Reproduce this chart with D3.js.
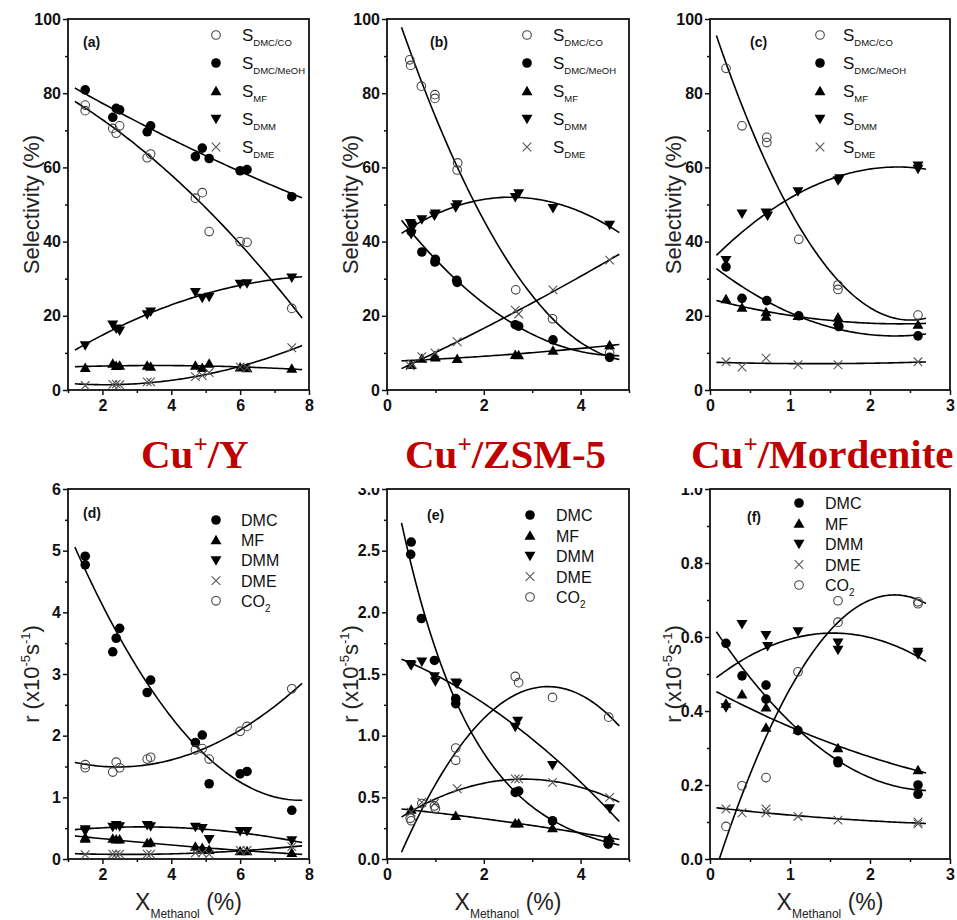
<!DOCTYPE html>
<html>
<head>
<meta charset="utf-8">
<script src="https://cdn.jsdelivr.net/npm/d3@7"></script>
<style>
body { margin: 0; background: #fff; }
svg { display: block; }
text { font-family: "Liberation Sans", Arial, sans-serif; }
</style>
</head>
<body>
<svg id="chart" width="957" height="920"></svg>
<script>
// ---- data ----
// (a) Cu+/Y selectivity
var aCo   = [[1.5,76.8],[1.5,75.3],[2.3,70.5],[2.4,69.2],[2.5,71.2],[3.3,62.6],[3.4,63.6],[4.7,51.7],[4.9,53.2],[5.1,42.7],[6.0,40],[6.2,39.8],[7.5,22]];
var aMeoh = [[1.5,80.9],[2.3,73.5],[2.4,75.9],[2.5,75.5],[3.3,69.6],[3.4,71.2],[4.7,62.9],[4.9,65.2],[5.1,62.4],[6.0,59.1],[6.2,59.4],[7.5,52.1]];
var aMf   = [[1.5,6],[2.3,7.1],[2.4,6.5],[2.5,6.6],[3.3,6.6],[3.4,6.3],[4.7,6.6],[4.9,6.0],[5.1,7.1],[6.0,6.1],[6.2,5.9],[7.5,5.8]];
var aDmm  = [[1.5,12],[2.3,17.6],[2.4,16.5],[2.5,16],[3.3,20.4],[3.4,21.1],[4.7,26.4],[4.9,24.8],[5.1,25.1],[6.0,28.6],[6.2,28.7],[7.5,30.3]];
var aDme  = [[1.5,1.2],[2.3,1.5],[2.4,1.6],[2.5,1.4],[3.3,2.2],[3.4,2.2],[4.7,3.6],[4.9,3.9],[5.1,4.7],[6.0,6.2],[6.2,6.0],[7.5,11.4]];
// (b) Cu+/ZSM-5 selectivity
var bCo   = [[0.47,89],[0.49,87.5],[0.71,81.9],[0.99,79.6],[0.99,78.6],[1.46,61.2],[1.45,59.3],[2.66,27],[3.42,19.2],[4.6,10]];
var bMeoh = [[0.5,42.7],[0.52,44.8],[0.72,37.2],[0.99,34.5],[1.0,35.2],[1.44,29.6],[1.45,29],[2.65,17.6],[2.72,17.2],[3.43,13.5],[4.6,8.8]];
var bMf   = [[0.5,6.8],[0.72,8.5],[0.99,9.2],[1.0,8.8],[1.45,8.4],[2.65,9.5],[2.72,9.4],[3.43,10.6],[4.6,12.1]];
var bDmm  = [[0.48,45],[0.5,42],[0.72,46],[0.98,47],[1.0,47.5],[1.42,49.2],[1.45,50],[2.65,52],[2.72,53],[3.43,49],[4.6,44.5]];
var bDme  = [[0.48,6.5],[0.52,7],[0.72,9],[0.99,10],[1.45,13],[2.65,21.5],[2.72,20.5],[3.43,27],[4.6,35]];
// (c) Cu+/Mordenite selectivity
var cCo   = [[0.2,86.7],[0.4,71.2],[0.71,68.1],[0.71,66.7],[1.11,40.6],[1.6,28.3],[1.6,27.1],[2.6,20.2]];
var cMeoh = [[0.2,33.2],[0.4,24.7],[0.71,24.1],[1.11,20],[1.61,17.1],[2.6,14.6]];
var cMf   = [[0.2,24.5],[0.4,22.2],[0.7,21],[0.7,19.8],[1.1,20],[1.6,19.6],[1.6,18.5],[2.6,17.6]];
var cDmm  = [[0.2,35],[0.4,47.5],[0.7,47.8],[0.72,47],[1.1,53.5],[1.6,56.5],[1.62,57],[2.6,60.5],[2.6,59.6]];
var cDme  = [[0.2,7.6],[0.4,6.2],[0.7,8.6],[1.1,6.8],[1.6,6.8],[2.6,7.6]];
// (d) Cu+/Y rates
var dDmc  = [[1.5,4.91],[1.5,4.77],[2.3,3.36],[2.4,3.58],[2.5,3.74],[3.3,2.7],[3.4,2.9],[4.7,1.89],[4.9,2.01],[5.1,1.22],[6.0,1.38],[6.2,1.42],[7.5,0.79]];
var dMf   = [[1.5,0.35],[1.5,0.33],[2.3,0.33],[2.4,0.32],[2.5,0.32],[3.3,0.26],[3.4,0.27],[4.7,0.2],[4.9,0.18],[5.1,0.15],[6.0,0.13],[6.2,0.13],[7.5,0.1]];
var dDmm  = [[1.5,0.48],[1.5,0.45],[2.3,0.52],[2.4,0.55],[2.5,0.53],[3.3,0.55],[3.4,0.53],[4.7,0.52],[4.9,0.5],[5.1,0.32],[6.0,0.45],[6.2,0.45],[7.5,0.3]];
var dDme  = [[1.5,0.07],[2.3,0.08],[2.4,0.08],[2.5,0.08],[3.3,0.08],[3.4,0.08],[4.7,0.1],[4.9,0.1],[5.1,0.08],[6.0,0.14],[6.2,0.14],[7.5,0.2]];
var dCo2  = [[1.5,1.53],[1.5,1.48],[2.3,1.41],[2.4,1.57],[2.5,1.48],[3.3,1.62],[3.4,1.65],[4.7,1.77],[4.9,1.79],[5.1,1.62],[6.0,2.07],[6.2,2.15],[7.5,2.76]];
// (e) Cu+/ZSM-5 rates
var eDmc  = [[0.49,2.47],[0.5,2.57],[0.71,1.95],[0.98,1.61],[1.42,1.3],[1.42,1.26],[2.65,0.54],[2.72,0.55],[3.42,0.31],[4.57,0.15],[4.57,0.12]];
var eMf   = [[0.5,0.4],[1.42,0.35],[2.65,0.29],[2.72,0.29],[3.42,0.25],[4.6,0.17]];
var eDmm  = [[0.48,1.58],[0.5,1.57],[0.72,1.6],[0.98,1.48],[1.0,1.44],[1.42,1.43],[1.45,1.42],[2.65,1.07],[2.7,1.12],[3.42,0.76],[4.6,0.41]];
var eDme  = [[0.5,0.38],[0.72,0.46],[0.98,0.45],[1.45,0.57],[2.65,0.65],[2.72,0.65],[3.42,0.62],[4.6,0.5]];
var eCo2  = [[0.48,0.33],[0.5,0.31],[0.72,0.45],[0.98,0.43],[1.0,0.41],[1.42,0.9],[1.42,0.8],[2.65,1.48],[2.72,1.43],[3.42,1.31],[4.58,1.15]];
// (f) Cu+/Mordenite rates
var fDmc  = [[0.2,0.583],[0.4,0.495],[0.7,0.47],[0.7,0.432],[1.1,0.347],[1.6,0.26],[1.6,0.265],[2.6,0.2],[2.6,0.175]];
var fMf   = [[0.2,0.42],[0.4,0.445],[0.7,0.41],[0.7,0.355],[1.1,0.35],[1.6,0.3],[2.6,0.24]];
var fDmm  = [[0.2,0.41],[0.4,0.635],[0.7,0.605],[0.72,0.575],[1.1,0.615],[1.6,0.585],[1.6,0.565],[2.6,0.56],[2.6,0.553]];
var fDme  = [[0.2,0.135],[0.4,0.125],[0.7,0.135],[0.7,0.125],[1.1,0.115],[1.6,0.105],[2.6,0.1],[2.6,0.095]];
var fCo2  = [[0.2,0.088],[0.4,0.198],[0.7,0.22],[1.1,0.506],[1.6,0.64],[1.6,0.698],[2.6,0.695],[2.6,0.69]];

var selLabels  = [['S','DMC/CO'],['S','DMC/MeOH'],['S','MF'],['S','DMM'],['S','DME']];
var rateLabels = [['DMC',''],['MF',''],['DMM',''],['DME',''],['CO','2']];
var catalysts  = [['Cu','+','/Y'],['Cu','+','/ZSM-5'],['Cu','+','/Mordenite']];
var panelTags  = ['(a)','(b)','(c)','(d)','(e)','(f)'];

var xTicksY = [2,4,6,8],  xMinorY = [1,3,5,7];
var xTicksZ = [0,2,4],    xMinorZ = [1,3,5];
var xTicksM = [0,1,2,3],  xMinorM = [0.5,1.5,2.5];
var selTicks = [0,20,40,60,80,100], selMinor = [10,30,50,70,90];
var dTicks = [0,1,2,3,4,5,6],       dMinor = [0.5,1.5,2.5,3.5,4.5,5.5];
var eTicks = [0,0.5,1,1.5,2,2.5,3], eMinor = [0.25,0.75,1.25,1.75,2.25,2.75];
var fTicks = [0,0.2,0.4,0.6,0.8,1], fMinor = [0.1,0.3,0.5,0.7,0.9];

// ---- layout ----
var rows = [{top: 19, bottom: 390}, {top: 489, bottom: 859}];
var cols = [{left: 68, right: 309}, {left: 387, right: 629}, {left: 710, right: 950}];
var selMarks  = ['open', 'dot', 'up', 'down', 'cross'];
var rateMarks = ['dot', 'up', 'down', 'cross', 'open'];

// fit kind per series: polynomial degree, or 'log' (quadratic on ln y)
var panels = [
	{row: 0, col: 0, xd: [1,8], yd: [0,100], xt: xTicksY, xm: xMinorY, yt: selTicks, ym: selMinor, fmt: d3.format('d'),
	 series: [aCo, aMeoh, aMf, aDmm, aDme], deg: [2,2,2,2,2], fit: [1.2,7.8], leg: {sx: 148, tx: 174, y: 35, dy: 28}, tag: [15, 47]},
	{row: 0, col: 1, xd: [0,5], yd: [0,100], xt: xTicksZ, xm: xMinorZ, yt: selTicks, ym: selMinor, fmt: d3.format('d'),
	 series: [bCo, bMeoh, bMf, bDmm, bDme], deg: [2,2,2,2,2], fit: [0.3,4.8], leg: {sx: 140, tx: 166, y: 35, dy: 28}, tag: [43, 47]},
	{row: 0, col: 2, xd: [0,3], yd: [0,100], xt: xTicksM, xm: xMinorM, yt: selTicks, ym: selMinor, fmt: d3.format('d'),
	 series: [cCo, cMeoh, cMf, cDmm, cDme], deg: [2,2,2,2,2], fit: [0.08,2.7], leg: {sx: 110, tx: 133, y: 35, dy: 28}, tag: [40, 47]},
	{row: 1, col: 0, xd: [1,8], yd: [0,6], xt: xTicksY, xm: xMinorY, yt: dTicks, ym: dMinor, fmt: d3.format('d'),
	 series: [dDmc, dMf, dDmm, dDme, dCo2], deg: [2,2,2,2,2], fit: [1.2,7.8], leg: {sx: 148, tx: 173, y: 520, dy: 20.2}, tag: [15, 518]},
	{row: 1, col: 1, xd: [0,5], yd: [0,3], xt: xTicksZ, xm: xMinorZ, yt: eTicks, ym: eMinor, fmt: d3.format('.1f'),
	 series: [eDmc, eMf, eDmm, eDme, eCo2], deg: ['log',2,2,2,2], fit: [0.3,4.8], leg: {sx: 143, tx: 169, y: 515, dy: 20.5}, tag: [40, 520]},
	{row: 1, col: 2, xd: [0,3], yd: [0,1], xt: xTicksM, xm: xMinorM, yt: fTicks, ym: fMinor, fmt: d3.format('.1f'),
	 series: [fDmc, fMf, fDmm, fDme, fCo2], deg: [2,2,2,2,2], fit: [0.08,2.7], leg: {sx: 89, tx: 115, y: 503, dy: 20.5}, tag: [37, 522]}
];

// least squares polynomial, coefficients low->high
function polyfit(pts, deg) {
	var n = deg + 1, M = [];
	for (var i = 0; i < n; i++) M.push(new Array(n + 1).fill(0));
	pts.forEach(function(p) {
		for (var i = 0; i < n; i++) {
			for (var j = 0; j < n; j++) M[i][j] += Math.pow(p[0], i + j);
			M[i][n] += p[1] * Math.pow(p[0], i);
		}
	});
	for (var c = 0; c < n; c++) {
		var piv = c;
		for (var r = c + 1; r < n; r++) if (Math.abs(M[r][c]) > Math.abs(M[piv][c])) piv = r;
		var tmp = M[c]; M[c] = M[piv]; M[piv] = tmp;
		for (var r2 = 0; r2 < n; r2++) {
			if (r2 === c) continue;
			var f = M[r2][c] / M[c][c];
			for (var k = c; k <= n; k++) M[r2][k] -= f * M[c][k];
		}
	}
	return M.map(function(row, i) { return row[n] / row[i]; });
}
function polyval(coef, x) {
	return coef.reduce(function(s, c, i) { return s + c * Math.pow(x, i); }, 0);
}
function fitFn(pts, kind) {
	if (kind === 'log') {
		var cl = polyfit(pts.map(function(d) { return [d[0], Math.log(d[1])]; }), 2);
		return function(x) { return Math.exp(polyval(cl, x)); };
	}
	var c = polyfit(pts, kind);
	return function(x) { return polyval(c, x); };
}

function drawMark(g, type, x, y) {
	if (type === 'open') {
		g.append('circle').attr('cx', x).attr('cy', y).attr('r', 4.3)
			.attr('fill', 'none').attr('stroke', '#444').attr('stroke-width', 1.1);
	} else if (type === 'dot') {
		g.append('circle').attr('cx', x).attr('cy', y).attr('r', 4.8).attr('fill', '#000');
	} else if (type === 'up' || type === 'down') {
		g.append('path').attr('d', d3.symbol(d3.symbolTriangle, 52)())
			.attr('transform', 'translate(' + x + ',' + (type === 'up' ? y + 1 : y - 1) + ')' + (type === 'down' ? ' rotate(180)' : ''))
			.attr('fill', '#000');
	} else {
		var s = 4.3;
		g.append('path').attr('d', 'M' + (x - s) + ',' + (y - s) + 'L' + (x + s) + ',' + (y + s) + 'M' + (x - s) + ',' + (y + s) + 'L' + (x + s) + ',' + (y - s))
			.attr('stroke', '#555').attr('stroke-width', 1.1).attr('fill', 'none');
	}
}

var svg = d3.select('#chart');

panels.forEach(function(p, pi) {
	var r = rows[p.row], c = cols[p.col];
	var x = d3.scaleLinear().domain(p.xd).range([c.left, c.right]);
	var y = d3.scaleLinear().domain(p.yd).range([r.bottom, r.top]);
	var g = svg.append('g');

	var clipId = 'clip' + pi;
	svg.append('clipPath').attr('id', clipId).append('rect')
		.attr('x', c.left).attr('y', r.top).attr('width', c.right - c.left).attr('height', r.bottom - r.top);

	// minor ticks
	g.append('g').attr('transform', 'translate(0,' + r.bottom + ')')
		.call(d3.axisBottom(x).tickValues(p.xm).tickSize(3).tickFormat(''))
		.call(function(a) { a.select('.domain').remove(); });
	g.append('g').attr('transform', 'translate(' + c.left + ',0)')
		.call(d3.axisLeft(y).tickValues(p.ym).tickSize(3).tickFormat(''))
		.call(function(a) { a.select('.domain').remove(); });

	// major ticks + labels
	var xa = g.append('g').attr('transform', 'translate(0,' + r.bottom + ')')
		.call(d3.axisBottom(x).tickValues(p.xt).tickSize(5).tickSizeOuter(0).tickPadding(5).tickFormat(d3.format('d')));
	var ya = g.append('g').attr('transform', 'translate(' + c.left + ',0)')
		.call(d3.axisLeft(y).tickValues(p.yt).tickSize(5).tickSizeOuter(0).tickPadding(2).tickFormat(p.fmt));
	[xa, ya].forEach(function(a) {
		a.select('.domain').remove();
		a.selectAll('text').attr('font-size', 16).attr('font-weight', 'bold').attr('fill', '#111')
			.style('font-family', '"Liberation Sans", Arial, sans-serif');
	});
	g.selectAll('.tick line').attr('stroke', '#111').attr('stroke-width', 1.5);

	// frame
	g.append('rect').attr('x', c.left).attr('y', r.top)
		.attr('width', c.right - c.left).attr('height', r.bottom - r.top)
		.attr('fill', 'none').attr('stroke', '#111').attr('stroke-width', 1.8);

	// fits
	var line = d3.line().x(function(d) { return x(d[0]); }).y(function(d) { return y(d[1]); });
	var fg = g.append('g').attr('clip-path', 'url(#' + clipId + ')');
	p.series.forEach(function(s, si) {
		var fn = fitFn(s, p.deg[si]);
		var pts = d3.range(0, 81).map(function(i) {
			var xv = p.fit[0] + (p.fit[1] - p.fit[0]) * i / 80;
			return [xv, fn(xv)];
		});
		fg.append('path').datum(pts).attr('d', line)
			.attr('fill', 'none').attr('stroke', '#000').attr('stroke-width', 1.6);
	});

	// markers
	var marks = p.row === 0 ? selMarks : rateMarks;
	var mg = g.append('g');
	p.series.forEach(function(s, si) {
		s.forEach(function(d) { drawMark(mg, marks[si], x(d[0]), y(d[1])); });
	});

	// legend
	var labels = p.row === 0 ? selLabels : rateLabels;
	labels.forEach(function(l, li) {
		var ly = p.leg.y + li * p.leg.dy;
		drawMark(g, marks[li], c.left + p.leg.sx, ly);
		var t = g.append('text').attr('x', c.left + p.leg.tx).attr('y', ly + 6)
			.attr('font-size', p.row === 0 ? 17 : 16).attr('fill', '#111');
		t.append('tspan').text(l[0]);
		if (l[1]) t.append('tspan').attr('font-size', p.row === 0 ? 9.5 : 10).attr('dy', 5).text(l[1]);
	});

	// panel tag
	g.append('text').attr('x', c.left + p.tag[0]).attr('y', p.tag[1])
		.attr('font-size', 14).attr('font-weight', 'bold').attr('fill', '#111').text(panelTags[pi]);

	// y title
	var yt = g.append('text')
		.attr('transform', 'translate(' + (c.left - 29) + ',' + ((r.top + r.bottom) / 2) + ') rotate(-90)')
		.attr('text-anchor', 'middle').attr('font-size', 22).attr('fill', '#222');
	if (p.row === 0) {
		yt.text('Selectivity (%)');
	} else {
		yt.append('tspan').text('r (x10');
		yt.append('tspan').attr('font-size', 13).attr('dy', -9).text('-5');
		yt.append('tspan').attr('dy', 9).text('s');
		yt.append('tspan').attr('font-size', 13).attr('dy', -9).text('-1');
		yt.append('tspan').attr('dy', 9).text(')');
	}

	// x title (bottom row only)
	if (p.row === 1) {
		var xt = g.append('text').attr('x', (c.left + c.right) / 2).attr('y', 910)
			.attr('text-anchor', 'middle').attr('font-size', 23).attr('fill', '#222');
		xt.append('tspan').text('X');
		xt.append('tspan').attr('font-size', 12).attr('dy', 8).text('Methanol');
		xt.append('tspan').attr('dy', -8).text(' (%)');
	}
});

// top edge of panels (e),(f) is hidden behind the title strip
svg.append('rect').attr('x', 330).attr('y', 472).attr('width', 627).attr('height', 16).attr('fill', '#fff');

// catalyst titles
var titleX = [141, 405, 691];
catalysts.forEach(function(t, i) {
	var tt = svg.append('text').attr('x', titleX[i]).attr('y', 468)
		.attr('font-size', 41).attr('font-weight', 'bold').attr('fill', '#c00000')
		.style('font-family', '"Liberation Serif", "Times New Roman", serif');
	tt.append('tspan').text(t[0]);
	tt.append('tspan').attr('font-size', 25).attr('dy', -15).text(t[1]);
	tt.append('tspan').attr('dy', 15).text(t[2]);
});
</script>
</body>
</html>
